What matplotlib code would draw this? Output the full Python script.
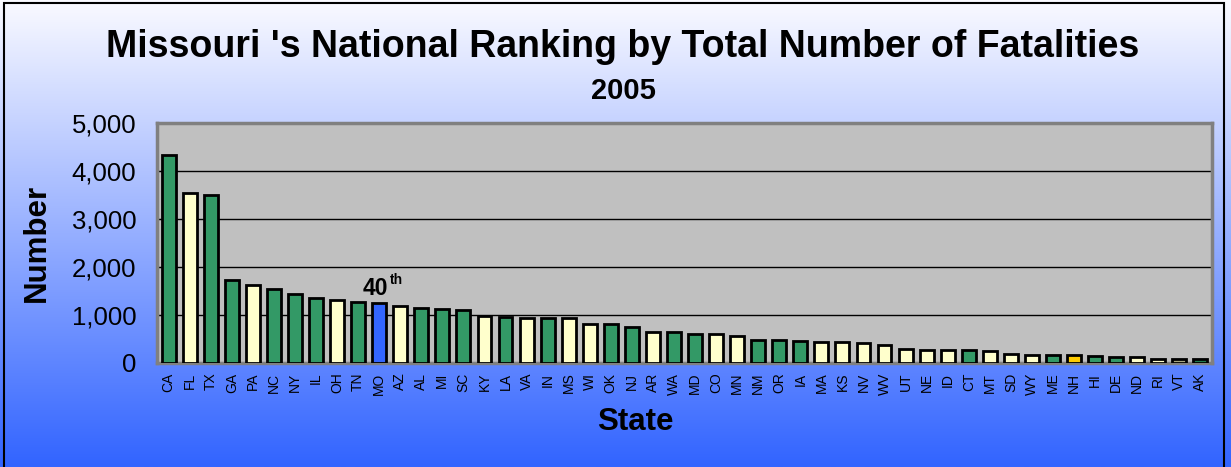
import numpy as np
import matplotlib.pyplot as plt
from matplotlib.patches import Rectangle

states = ["CA", "FL", "TX", "GA", "PA", "NC", "NY", "IL", "OH", "TN",
          "MO", "AZ", "AL", "MI", "SC", "KY", "LA", "VA", "IN", "MS",
          "WI", "OK", "NJ", "AR", "WA", "MD", "CO", "MN", "NM", "OR",
          "IA", "MA", "KS", "NV", "WV", "UT", "NE", "ID", "CT", "MT",
          "SD", "WY", "ME", "NH", "HI", "DE", "ND", "RI", "VT", "AK"]
fatalities = [4329, 3543, 3504, 1729, 1616, 1547, 1434, 1363, 1321, 1270,
              1257, 1179, 1148, 1129, 1094, 985, 963, 947, 938, 931,
              815, 803, 747, 654, 649, 614, 606, 559, 488, 487,
              450, 441, 428, 427, 374, 282, 276, 275, 278, 251,
              186, 170, 169, 166, 140, 133, 123, 87, 73, 73]
# g = green, y = light yellow, b = Missouri, o = NH, v = VT, d = AK
groups = ["g", "y", "g", "g", "y", "g", "g", "g", "y", "g",
          "b", "y", "g", "g", "g", "y", "g", "y", "g", "y",
          "y", "g", "g", "y", "g", "g", "y", "y", "g", "g",
          "g", "y", "y", "y", "y", "y", "y", "y", "g", "y",
          "y", "y", "g", "o", "g", "g", "y", "y", "v", "d"]
palette = {"g": "#339966", "y": "#ffffcc", "b": "#3366ff", "o": "#ffcc00",
           "v": "#a6a680", "d": "#1f7a4d"}

W, H = 1231, 467
fig = plt.figure(figsize=(W / 100, H / 100), dpi=100)

# gradient background
bg = fig.add_axes([0, 0, 1, 1], zorder=-10)
top = np.array([250, 250, 255]) / 255
bot = np.array([50, 100, 255]) / 255
t = np.linspace(0, 1, 256)[:, None]
grad = top * (1 - t) + bot * t
bg.imshow(grad[:, None, :], aspect="auto", extent=[0, 1, 0, 1])
bg.set_xlim(0, 1)
bg.set_ylim(0, 1)
bg.axis("off")
bg.add_patch(Rectangle((4 / W, -0.01), (1224 - 4) / W, 1 - 3 / H + 0.01,
                       fill=False, edgecolor="black", lw=1.5))

ax = fig.add_axes([157 / W, 1 - 363 / H, (1212 - 157) / W, (363 - 123) / H])
ax.set_facecolor("#c0c0c0")
x = np.arange(len(states))
ax.bar(x, fatalities, width=0.66, color=[palette[g] for g in groups],
       edgecolor="black", linewidth=2, zorder=3)
ax.set_ylim(0, 5000)
ax.set_xlim(-0.55, len(states) - 0.45)
ax.set_yticks(range(0, 5001, 1000))
ax.set_yticklabels([f"{v:,}" for v in range(0, 5001, 1000)], fontsize=18.5,
                   family="Liberation Sans")
ax.yaxis.grid(True, color="black", lw=1)
ax.set_axisbelow(True)
ax.tick_params(axis="y", direction="in", length=3, pad=15)
ax.set_xticks(x)
ax.set_xticklabels(states, rotation=90, fontsize=10, family="Liberation Sans")
ax.tick_params(axis="x", length=0, pad=7)
for s in ax.spines.values():
    s.set_color("#808080")
    s.set_linewidth(2.5)

ax.set_ylabel("Number", fontsize=22.5, fontweight="bold", family="Liberation Sans",
              labelpad=14)
ax.set_xlabel("State", fontsize=22.5, fontweight="bold", family="Liberation Sans",
              labelpad=11)
ax.xaxis.set_label_coords((635 - 157) / (1212 - 157), -0.2)
ax.xaxis.label.set_va("center")
ax.xaxis.set_label_coords((635 - 157) / (1212 - 157), -(422 - 363) / (363 - 123))

mo = states.index("MO")
ax.annotate("40", (mo, fatalities[mo]), xytext=(-2.5, 2), textcoords="offset points",
            ha="center", va="bottom", fontsize=16.5, fontweight="bold",
            family="Liberation Sans")
ax.annotate("th", (mo, fatalities[mo]), xytext=(7.5, 11), textcoords="offset points",
            ha="left", va="bottom", fontsize=10, fontweight="bold",
            family="Liberation Sans")

fig.text(623 / W, 1 - 47 / H, "Missouri 's National Ranking by Total Number of Fatalities",
         ha="center", va="center", fontsize=27, fontweight="bold",
         family="Liberation Sans")
fig.text(623 / W, 1 - 91 / H, "2005", ha="center", va="center", fontsize=21,
         fontweight="bold", family="Liberation Sans")

fig.savefig("out.png", dpi=100)
